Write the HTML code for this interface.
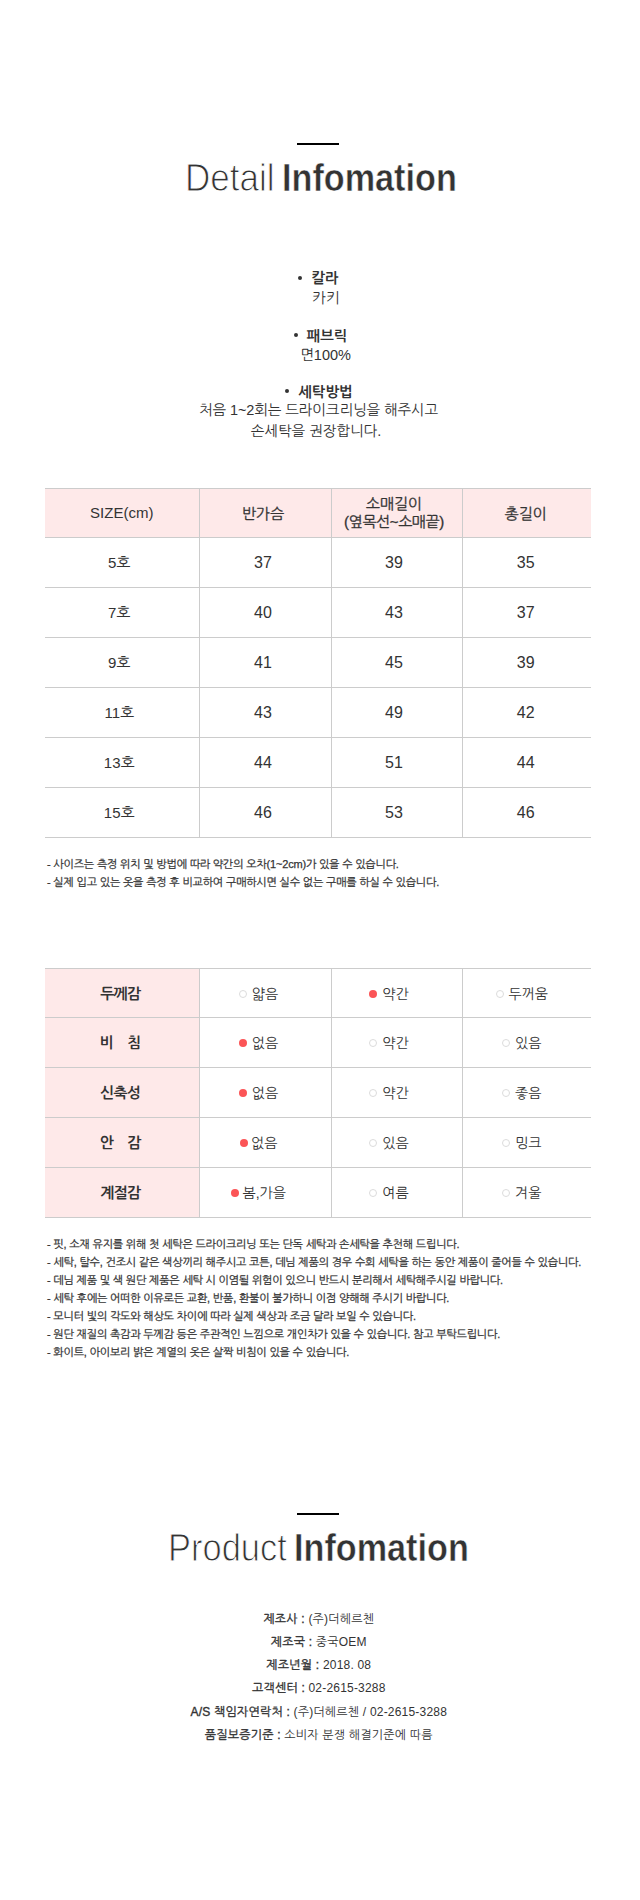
<!DOCTYPE html>
<html lang="ko">
<head>
<meta charset="utf-8">
<title>Detail Infomation</title>
<style>
html,body{margin:0;padding:0;background:#fff;}
body{width:640px;height:1900px;position:relative;overflow:hidden;
  font-family:"Liberation Sans","NanumGothic","Noto Sans CJK KR",sans-serif;color:#333;}
.bar{position:absolute;left:297px;width:42px;height:2px;background:#000;}
.ttl{position:absolute;left:0;top:0;font-size:38px;line-height:44px;white-space:nowrap;color:#333;}
.ttl span{position:absolute;top:0;transform-origin:0 0;}
.ttl .l{font-weight:400;color:#333;-webkit-text-stroke:1px #fff;}
.ttl .b{font-weight:700;color:#333;-webkit-text-stroke:0.5px #fff;}
.spec{position:absolute;left:0;width:640px;text-align:center;font-size:14.5px;line-height:20px;color:#333;}
.spec .k{font-weight:700;position:relative;}
.spec .k:before{content:"";display:inline-block;width:4px;height:4px;border-radius:50%;background:#333;vertical-align:middle;margin-right:9px;position:relative;top:-2px;}
table{position:absolute;left:45px;width:546px;border-collapse:collapse;table-layout:fixed;}
td,th{border:1px solid #ccc;text-align:center;padding:0;}
tr td:first-child,tr th:first-child{border-left:none;}
tr td:last-child,tr th:last-child{border-right:none;}
.t1 th{background:#fee9e9;font-weight:400;font-size:15px;line-height:18px;height:48px;}
.t1 td{font-size:16px;height:49px;}
.t1 td:first-child{font-size:15px;}
.t1 th:nth-child(1),.t1 td:nth-child(1){padding-right:5px;}
.t1 th:nth-child(2),.t1 td:nth-child(2){padding-right:4px;}
.t1 th:nth-child(3),.t1 td:nth-child(3){padding-right:5px;}
.t1 th:nth-child(4),.t1 td:nth-child(4){padding-right:2px;}
.t1 th .ko{position:relative;top:1px;}
.t1 th+th{-webkit-text-stroke:0.3px #333;}
.t1 th .sm{letter-spacing:-0.4px;}
.t2 td{height:49px;font-size:14px;}
.t2 tr:first-child td{height:48px;}
.t2 td:not(.h){padding-top:1px;height:48px;}
.t2 tr:first-child td:not(.h){height:47px;}
.t2 td.h{background:#fee9e9;font-weight:700;font-size:15px;letter-spacing:-0.7px;padding-right:3px;}
.t2 td:nth-child(2){padding-right:13px;}
.t2 td:nth-child(3){padding-right:15px;}
.t2 td:nth-child(4){padding-right:10px;}
.sp{display:inline-block;}
.note{position:absolute;left:47px;font-size:11px;line-height:18px;color:#333;letter-spacing:-0.18px;white-space:nowrap;-webkit-text-stroke:0.25px #333;}
.info{position:absolute;left:0;width:637.6px;text-align:center;font-size:12px;line-height:23.25px;color:#333;letter-spacing:0.2px;white-space:nowrap;}
.info b{font-weight:400;-webkit-text-stroke:0.35px #333;}
.d{display:inline-block;width:8px;height:8px;border-radius:50%;box-sizing:border-box;vertical-align:middle;position:relative;top:-1px;margin-right:5px;}
.d.n{margin-right:3.5px;}
.d.on{background:#fb5456;}
.d.off{border:1px solid #dcdcdc;}
</style>
</head>
<body>
<div class="bar" style="top:143px"></div>
<div class="ttl" style="top:156px"><span class="l" style="left:185px;transform:scaleX(0.922)">Detail</span><span class="b" style="left:282px;transform:scaleX(0.9)">Infomation</span></div>

<div class="spec" style="top:268.4px"><span class="k" style="left:-1.5px">칼라</span></div>
<div class="spec" style="top:288px;left:6px">카키</div>
<div class="spec" style="top:325.6px;left:0.5px"><span class="k">패브릭</span></div>
<div class="spec" style="top:345px;left:5.6px">면100%</div>
<div class="spec" style="top:381.8px;left:-1px"><span class="k">세탁방법</span></div>
<div class="spec" style="top:400.4px;left:-1.5px;letter-spacing:-0.1px">처음 1~2회는 드라이크리닝을 해주시고</div>
<div class="spec" style="top:420.8px;left:-4px">손세탁을 권장합니다.</div>

<table class="t1" style="top:488px">
<colgroup><col style="width:154px"><col style="width:132px"><col style="width:131px"><col style="width:129px"></colgroup>
<tr><th style="padding-right:0">SIZE(cm)</th><th><span class="ko">반가슴</span></th><th>소매길이<br><span class="sm">(옆목선~소매끝)</span></th><th><span class="ko">총길이</span></th></tr>
<tr><td>5호</td><td>37</td><td>39</td><td>35</td></tr>
<tr><td>7호</td><td>40</td><td>43</td><td>37</td></tr>
<tr><td>9호</td><td>41</td><td>45</td><td>39</td></tr>
<tr><td>11호</td><td>43</td><td>49</td><td>42</td></tr>
<tr><td>13호</td><td>44</td><td>51</td><td>44</td></tr>
<tr><td>15호</td><td>46</td><td>53</td><td>46</td></tr>
</table>

<div class="note" style="top:855px">- 사이즈는 측정 위치 및 방법에 따라 약간의 오차(1~2cm)가 있을 수 있습니다.<br>- 실제 입고 있는 옷을 측정 후 비교하여 구매하시면 실수 없는 구매를 하실 수 있습니다.</div>

<table class="t2" style="top:968px">
<colgroup><col style="width:154px"><col style="width:132px"><col style="width:131px"><col style="width:129px"></colgroup>
<tr><td class="h">두께감</td><td><span class="d off"></span>얇음</td><td><span class="d on"></span>약간</td><td><span class="d off"></span>두꺼움</td></tr>
<tr><td class="h">비<span class="sp" style="width:14px"></span>침</td><td><span class="d on"></span>없음</td><td><span class="d off"></span>약간</td><td><span class="d off"></span>있음</td></tr>
<tr><td class="h">신축성</td><td><span class="d on"></span>없음</td><td><span class="d off"></span>약간</td><td><span class="d off"></span>좋음</td></tr>
<tr><td class="h">안<span class="sp" style="width:14px"></span>감</td><td><span class="d on n"></span>없음</td><td><span class="d off"></span>있음</td><td><span class="d off"></span>밍크</td></tr>
<tr><td class="h">계절감</td><td><span class="d on n"></span>봄,가을</td><td><span class="d off"></span>여름</td><td><span class="d off"></span>겨울</td></tr>
</table>

<div class="note" style="top:1235px">- 핏, 소재 유지를 위해 첫 세탁은 드라이크리닝 또는 단독 세탁과 손세탁을 추천해 드립니다.<br>- 세탁, 탈수, 건조시 같은 색상끼리 해주시고 코튼, 데님 제품의 경우 수회 세탁을 하는 동안 제품이 줄어들 수 있습니다.<br>- 데님 제품 및 색 원단 제품은 세탁 시 이염될 위험이 있으니 반드시 분리해서 세탁해주시길 바랍니다.<br>- 세탁 후에는 어떠한 이유로든 교환, 반품, 환불이 불가하니 이점 양해해 주시기 바랍니다.<br>- 모니터 빛의 각도와 해상도 차이에 따라 실제 색상과 조금 달라 보일 수 있습니다.<br>- 원단 재질의 촉감과 두께감 등은 주관적인 느낌으로 개인차가 있을 수 있습니다. 참고 부탁드립니다.<br>- 화이트, 아이보리 밝은 계열의 옷은 살짝 비침이 있을 수 있습니다.</div>

<div class="bar" style="top:1513px"></div>
<div class="ttl" style="top:1526px"><span class="l" style="left:168px;transform:scaleX(0.907)">Product</span><span class="b" style="left:294px;transform:scaleX(0.9)">Infomation</span></div>

<div class="info" style="top:1607.5px">
<div><b>제조사 :</b> (주)더헤르첸</div>
<div><b>제조국 :</b> 중국OEM</div>
<div><b>제조년월 :</b> 2018. 08</div>
<div><b>고객센터 :</b> 02-2615-3288</div>
<div><b>A/S 책임자연락처 :</b> (주)더헤르첸 / 02-2615-3288</div>
<div><b>품질보증기준 :</b> 소비자 분쟁 해결기준에 따름</div>
</div>
</body>
</html>
